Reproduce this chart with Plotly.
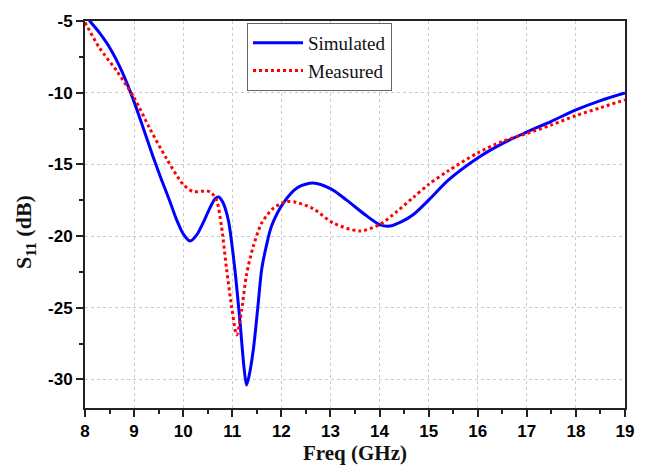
import plotly.graph_objects as go

sim_x = [8.0, 8.1, 8.3, 8.51, 8.75, 8.98, 9.2, 9.39, 9.55, 9.72, 9.87, 10.0, 10.14, 10.28, 10.41, 10.55, 10.65, 10.72,
         10.8, 10.92, 11.05, 11.16, 11.24, 11.29, 11.34, 11.43, 11.52, 11.6, 11.7, 11.8, 12.04, 12.34, 12.65, 13.0,
         13.33, 13.7, 14.0, 14.21, 14.45, 14.69, 15.0, 15.4, 16.0, 16.5, 17.0, 17.5, 18.0, 18.5, 19.0]
sim_y = [-4.5, -5.0, -5.85, -6.9, -8.5, -10.45, -12.6, -14.5, -16.0, -17.5, -18.9, -19.85, -20.35, -19.9, -19.05, -18.0,
         -17.4, -17.28, -17.6, -18.9, -22.25, -26.1, -29.2, -30.4, -29.8, -27.9, -25.0, -22.3, -20.6, -19.3, -17.7,
         -16.6, -16.3, -16.7, -17.5, -18.5, -19.2, -19.31, -19.0, -18.5, -17.5, -16.1, -14.55, -13.55, -12.75, -12.0,
         -11.2, -10.55, -10.02]

meas_x = [8.0, 8.3, 8.65, 9.0, 9.32, 9.66, 10.0, 10.2, 10.48, 10.58, 10.68, 10.78, 10.88, 10.99, 11.09, 11.19, 11.29,
          11.43, 11.6, 11.84, 12.1, 12.3, 12.65, 13.06, 13.6, 14.0, 14.35, 14.69, 15.0, 15.4, 16.0, 16.5, 17.0, 17.5,
          18.0, 18.5, 19.0]
meas_y = [-5.1, -6.9, -8.5, -10.35, -12.5, -14.6, -16.4, -16.9, -16.85, -17.0, -17.5, -19.3, -22.2, -25.0, -26.9,
          -25.2, -22.7, -20.7, -19.1, -18.05, -17.6, -17.65, -18.1, -19.1, -19.65, -19.2, -18.3, -17.3, -16.4, -15.45,
          -14.2, -13.4, -12.85, -12.25, -11.6, -11.05, -10.5]

x_ticks = [8, 9, 10, 11, 12, 13, 14, 15, 16, 17, 18, 19]
x_labels = ["8", "9", "10", "11", "12", "13", "14", "15", "16", "17", "18", "19"]
y_ticks = [-30, -25, -20, -15, -10, -5]
y_labels = ["-30", "-25", "-20", "-15", "-10", "-5"]

fig = go.Figure()
fig.add_trace(go.Scatter(x=sim_x, y=sim_y, mode="lines", name="Simulated",
                         line=dict(color="#0000ff", width=3, shape="spline", smoothing=0.8)))
fig.add_trace(go.Scatter(x=meas_x, y=meas_y, mode="lines", name="Measured",
                         line=dict(color="#ff0000", width=3, dash="dot", shape="spline", smoothing=0.8)))

axis_common = dict(
    showline=True, linecolor="#222222", linewidth=2, mirror=True,
    ticks="outside", ticklen=7, tickwidth=2, tickcolor="#222222",
    showgrid=True, gridcolor="#cccccc", griddash="dot", gridwidth=1,
    zeroline=False,
    tickfont=dict(family="Liberation Sans", size=17, color="#000000", weight=700),
)

fig.update_xaxes(range=[8, 19], tickmode="array", tickvals=x_ticks,
                 ticktext=["<b>%s</b>" % t for t in x_labels],
                 minor=dict(dtick=0.5, tick0=8, ticklen=4, tickwidth=2, tickcolor="#222222", ticks="outside", showgrid=False),
                 title=dict(text="<b>Freq (GHz)</b>", font=dict(family="Liberation Serif, Times New Roman", size=21, color="#111111"), standoff=2),
                 **axis_common)
fig.update_yaxes(range=[-32, -5], tickmode="array", tickvals=y_ticks,
                 ticktext=["<b>%s</b>" % t for t in y_labels],
                 minor=dict(dtick=2.5, tick0=-30, ticklen=4, tickwidth=2, tickcolor="#222222", ticks="outside", showgrid=False),
                 **axis_common)

fig.add_annotation(
    text="<b>S<sub>11</sub> (dB)</b>", textangle=-90,
    xref="paper", yref="paper", x=-0.111, y=0.455, xanchor="center", yanchor="middle",
    showarrow=False,
    font=dict(family="Liberation Serif, Times New Roman", size=22, color="#111111"),
)

fig.update_layout(
    width=646, height=470,
    margin=dict(l=85, r=21, t=16, b=57),
    paper_bgcolor="white", plot_bgcolor="white",
    showlegend=True,
    legend=dict(x=0.3, y=0.995, xanchor="left", yanchor="top",
                bgcolor="white", bordercolor="#666666", borderwidth=1,
                font=dict(family="Liberation Serif, Times New Roman", size=19, color="#111111"),
                tracegroupgap=0, itemwidth=50),
)

fig.write_html("out.html")
